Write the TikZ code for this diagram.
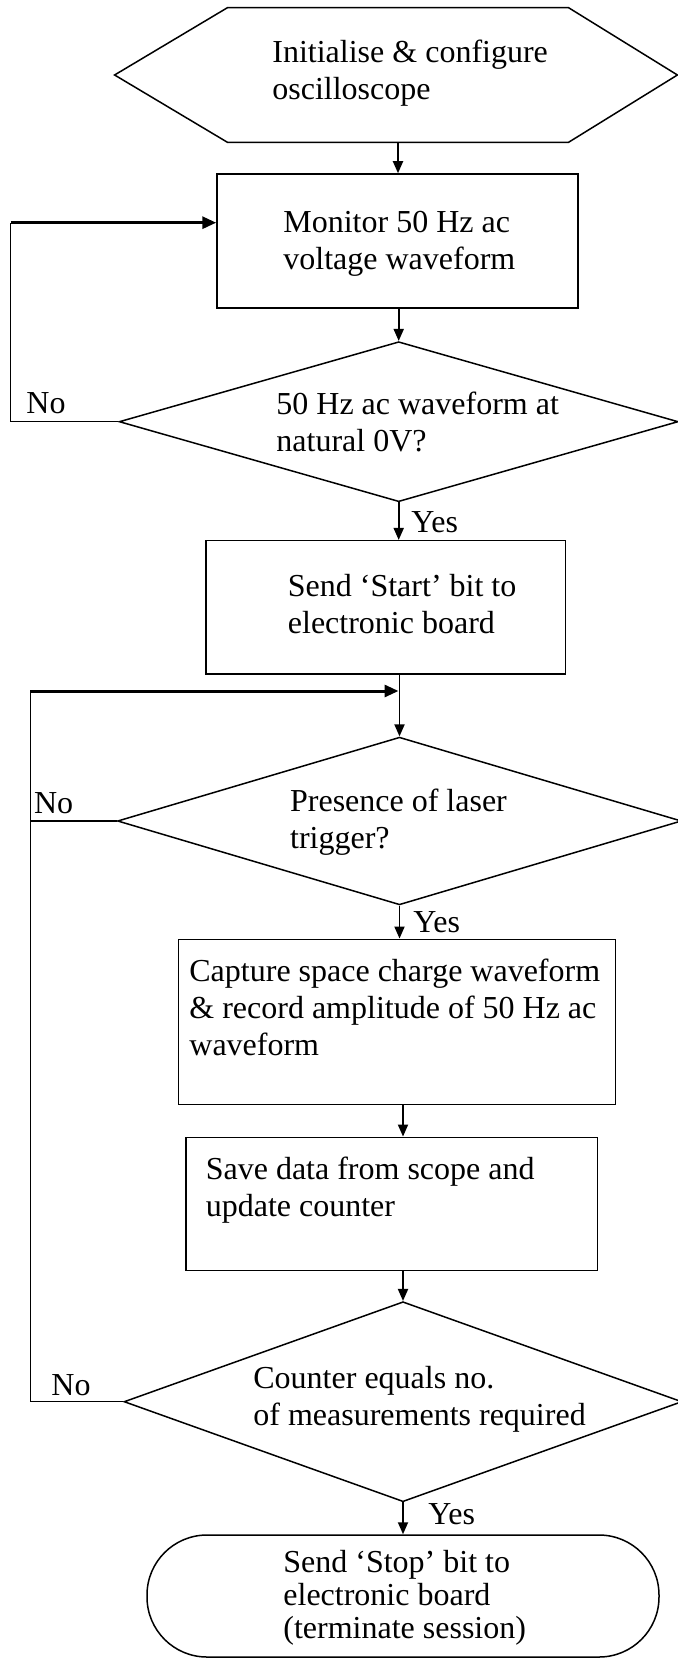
\documentclass[tikz,border=0pt]{standalone}
\usepackage{fontspec}
\setmainfont{Liberation Serif}
\usetikzlibrary{shapes.geometric, arrows.meta}
\begin{document}
\begin{tikzpicture}[x=0.5pt, y=-0.5pt,
  shp/.style={draw, line width=0.75pt, inner sep=0pt},
  rbox/.style={shp, rectangle},
  dmd/.style={shp, diamond},
  lbl/.style={inner sep=0pt, anchor=base west, align=left, font=\fontsize{16}{18.5}\selectfont},
  arr/.style={line width=0.9pt, -{Triangle[length=6pt,width=5pt]}},
  thinln/.style={line width=0.6pt},
  thickln/.style={line width=1.5pt, -{Triangle[length=7pt,width=6pt]}}
]
\fill[white] (0,0) rectangle (678,1658);
\useasboundingbox (0,0) rectangle (678,1658);

% shapes
\node[rectangle, inner sep=0pt, minimum width=170pt, minimum height=67pt] (init) at (398,75) {};
\draw[line width=0.75pt] (init.north west) -- (init.north east) -- ([xshift=54.5pt]init.east)
  -- (init.south east) -- (init.south west) -- ([xshift=-56.5pt]init.west) -- cycle;
\node[rbox, minimum width=180.5pt, minimum height=67pt] (mon) at (397.5,241) {};
\node[dmd, minimum width=279.5pt, minimum height=80pt] (d1) at (398.7,421.7) {};
\node[rbox, minimum width=179.9pt, minimum height=66.65pt] (start) at (385.7,607.35) {};
\node[dmd, minimum width=282pt, minimum height=83.85pt] (d2) at (399.5,821) {};
\node[rbox, minimum width=218.35pt, minimum height=82.5pt] (cap) at (397,1021.8) {};
\node[rbox, minimum width=205.8pt, minimum height=66.7pt] (save) at (391.8,1204) {};
\node[dmd, minimum width=279pt, minimum height=100pt] (d3) at (403,1401.7) {};
\node[rbox, rounded corners=30pt, minimum width=256pt, minimum height=61pt] (stop) at (403,1596) {};

% texts (anchor at baseline of last line)
\node[lbl] (tinit) at (272,100) {Initialise \& configure\\oscilloscope};
\node[lbl] (tmon) at (283,270) {Monitor 50 Hz ac\\voltage waveform};
\node[lbl] (td1) at (276,451) {50 Hz ac waveform at\\natural 0V?};
\node[lbl] (tno1) at (26,413) {No};
\node[lbl] (tyes1) at (411,532) {Yes};
\node[lbl] (tstart) at (287.5,633.3) {Send ‘Start’ bit to\\electronic board};
\node[lbl] (td2) at (289.7,848) {Presence of laser\\trigger?};
\node[lbl] (tno2) at (33.7,813) {No};
\node[lbl] (tyes2) at (413,932) {Yes};
\node[lbl] (tcap) at (189,1055) {Capture space charge waveform\\\& record amplitude of 50 Hz ac\\waveform};
\node[lbl] (tsave) at (205.4,1216.7) {Save data from scope and\\update counter};
\node[lbl] (td3) at (253,1425) {Counter equals no.\\of measurements required};
\node[lbl] (tno3) at (51,1395) {No};
\node[lbl] (tyes3) at (428,1524) {Yes};
\node[lbl, font=\fontsize{16}{16.5}\selectfont] (tstop) at (283,1638) {Send ‘Stop’ bit to\\electronic board\\(terminate session)};

% connectors
\draw[arr] (init.south) -- (init.south |- mon.north);
\draw[arr] (d1.north |- mon.south) -- (d1.north);
\draw[arr] (d1.south) -- (d1.south |- start.north);
\draw[arr] (start.south -| d2.north) -- (d2.north);
\draw[arr] (d2.south) -- (d2.south |- cap.north);
\draw[arr] (cap.south -| d3.north) -- (save.north -| d3.north);
\draw[arr] (save.south -| d3.north) -- (d3.north);
\draw[arr] (d3.south) -- (d3.south |- stop.north);

\coordinate (lp1) at (10.8,222.7);
\draw[thinln] (d1.west) -| (lp1);
\draw[thickln] (lp1) -- (lp1 -| mon.west);

\coordinate (lp2) at (30.3,691);
\draw[thinln] (d3.west) -| (lp2);
\draw[thinln] (d2.west) -- (d2.west -| lp2);
\draw[thickln, shorten >=0.5pt] (lp2) -- (lp2 -| d2.north);
\end{tikzpicture}
\end{document}
